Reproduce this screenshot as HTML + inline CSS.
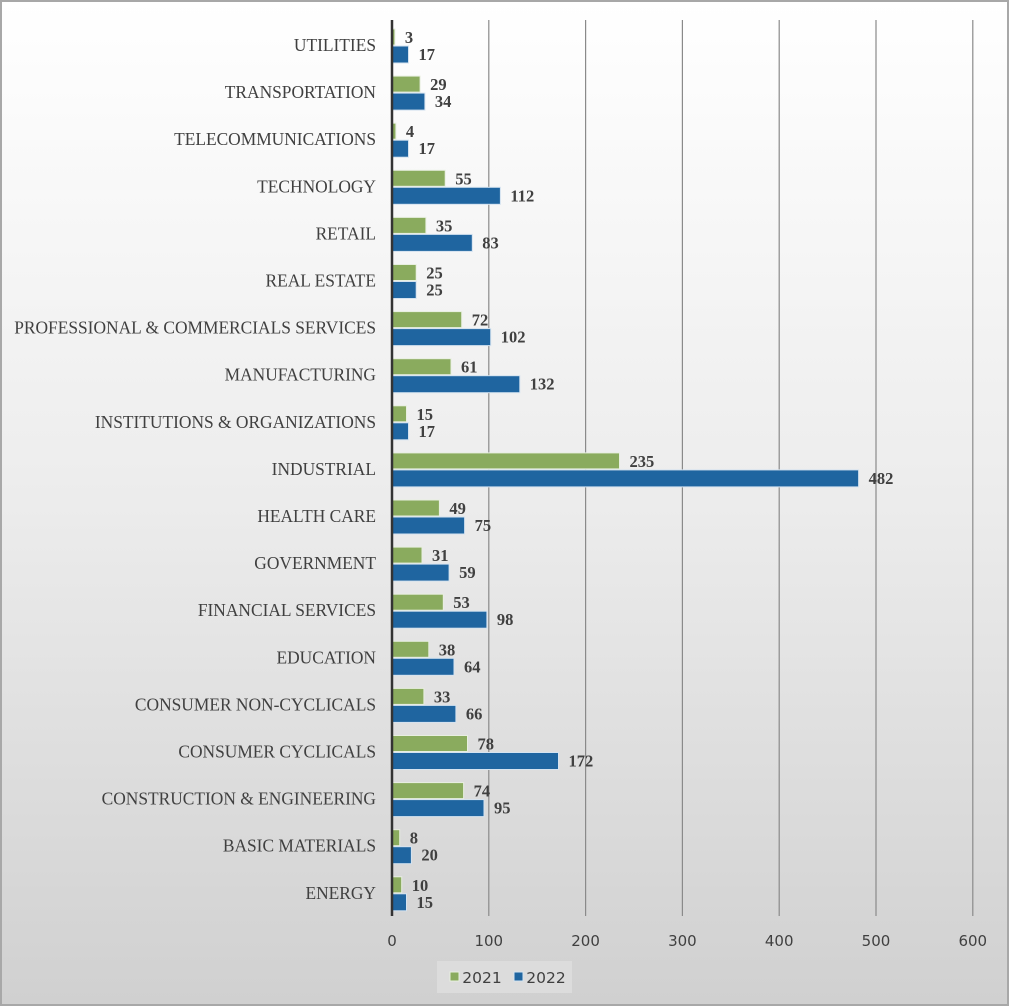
<!DOCTYPE html>
<html><head><meta charset="utf-8"><style>
html,body{margin:0;padding:0;}
body{width:1009px;height:1006px;overflow:hidden;}
svg{display:block}
.c{font-family:"Liberation Serif",serif;font-size:17.4px;fill:#404040;text-anchor:end}
.v{font-family:"Liberation Serif",serif;font-weight:bold;font-size:16.5px;fill:#404040}
.t{font-family:"DejaVu Sans",sans-serif;font-size:15px;fill:#404040;text-anchor:middle}
.g{fill:#8aab5e;stroke:#e8efe0;stroke-width:1}
.b{fill:#1f65a0;stroke:#d5e3f0;stroke-width:1}
</style></head><body>
<svg width="1009" height="1006" viewBox="0 0 1009 1006">
<defs><linearGradient id="bg" x1="0" y1="0" x2="0" y2="1">
<stop offset="0" stop-color="#ffffff"/><stop offset="0.5" stop-color="#ececec"/><stop offset="1" stop-color="#d0d0d0"/></linearGradient></defs>
<rect x="0.5" y="0.5" width="1008" height="1005" fill="url(#bg)" stroke="#a8a8a8" stroke-width="3"/>
<g stroke="#8a8a8a" stroke-width="1.2">
<line x1="488.8" y1="20" x2="488.8" y2="916"/><line x1="585.6" y1="20" x2="585.6" y2="916"/>
<line x1="682.4" y1="20" x2="682.4" y2="916"/><line x1="779.2" y1="20" x2="779.2" y2="916"/>
<line x1="876" y1="20" x2="876" y2="916"/><line x1="972.8" y1="20" x2="972.8" y2="916"/>
</g>
<g transform="translate(0,46)"><text class="c" x="376" y="5">UTILITIES</text><rect class="g" x="392" y="-17" width="2.9" height="16"/><rect class="b" x="392" y="0" width="16.5" height="17"/><text class="v" x="404.9" y="-3">3</text><text class="v" x="418.5" y="14">17</text></g>
<g transform="translate(0,93.1)"><text class="c" x="376" y="5">TRANSPORTATION</text><rect class="g" x="392" y="-17" width="28.1" height="16"/><rect class="b" x="392" y="0" width="32.9" height="17"/><text class="v" x="430.1" y="-3">29</text><text class="v" x="434.9" y="14">34</text></g>
<g transform="translate(0,140.2)"><text class="c" x="376" y="5">TELECOMMUNICATIONS</text><rect class="g" x="392" y="-17" width="3.9" height="16"/><rect class="b" x="392" y="0" width="16.5" height="17"/><text class="v" x="405.9" y="-3">4</text><text class="v" x="418.5" y="14">17</text></g>
<g transform="translate(0,187.3)"><text class="c" x="376" y="5">TECHNOLOGY</text><rect class="g" x="392" y="-17" width="53.2" height="16"/><rect class="b" x="392" y="0" width="108.4" height="17"/><text class="v" x="455.2" y="-3">55</text><text class="v" x="510.4" y="14">112</text></g>
<g transform="translate(0,234.4)"><text class="c" x="376" y="5">RETAIL</text><rect class="g" x="392" y="-17" width="33.9" height="16"/><rect class="b" x="392" y="0" width="80.3" height="17"/><text class="v" x="435.9" y="-3">35</text><text class="v" x="482.3" y="14">83</text></g>
<g transform="translate(0,281.5)"><text class="c" x="376" y="5">REAL ESTATE</text><rect class="g" x="392" y="-17" width="24.2" height="16"/><rect class="b" x="392" y="0" width="24.2" height="17"/><text class="v" x="426.2" y="-3">25</text><text class="v" x="426.2" y="14">25</text></g>
<g transform="translate(0,328.6)"><text class="c" x="376" y="5">PROFESSIONAL &amp; COMMERCIALS SERVICES</text><rect class="g" x="392" y="-17" width="69.7" height="16"/><rect class="b" x="392" y="0" width="98.7" height="17"/><text class="v" x="471.7" y="-3">72</text><text class="v" x="500.7" y="14">102</text></g>
<g transform="translate(0,375.7)"><text class="c" x="376" y="5">MANUFACTURING</text><rect class="g" x="392" y="-17" width="59" height="16"/><rect class="b" x="392" y="0" width="127.8" height="17"/><text class="v" x="461" y="-3">61</text><text class="v" x="529.8" y="14">132</text></g>
<g transform="translate(0,422.8)"><text class="c" x="376" y="5">INSTITUTIONS &amp; ORGANIZATIONS</text><rect class="g" x="392" y="-17" width="14.5" height="16"/><rect class="b" x="392" y="0" width="16.5" height="17"/><text class="v" x="416.5" y="-3">15</text><text class="v" x="418.5" y="14">17</text></g>
<g transform="translate(0,469.9)"><text class="c" x="376" y="5">INDUSTRIAL</text><rect class="g" x="392" y="-17" width="227.5" height="16"/><rect class="b" x="392" y="0" width="466.6" height="17"/><text class="v" x="629.5" y="-3">235</text><text class="v" x="868.6" y="14">482</text></g>
<g transform="translate(0,517)"><text class="c" x="376" y="5">HEALTH CARE</text><rect class="g" x="392" y="-17" width="47.4" height="16"/><rect class="b" x="392" y="0" width="72.6" height="17"/><text class="v" x="449.4" y="-3">49</text><text class="v" x="474.6" y="14">75</text></g>
<g transform="translate(0,564.1)"><text class="c" x="376" y="5">GOVERNMENT</text><rect class="g" x="392" y="-17" width="30" height="16"/><rect class="b" x="392" y="0" width="57.1" height="17"/><text class="v" x="432" y="-3">31</text><text class="v" x="459.1" y="14">59</text></g>
<g transform="translate(0,611.2)"><text class="c" x="376" y="5">FINANCIAL SERVICES</text><rect class="g" x="392" y="-17" width="51.3" height="16"/><rect class="b" x="392" y="0" width="94.9" height="17"/><text class="v" x="453.3" y="-3">53</text><text class="v" x="496.9" y="14">98</text></g>
<g transform="translate(0,658.3)"><text class="c" x="376" y="5">EDUCATION</text><rect class="g" x="392" y="-17" width="36.8" height="16"/><rect class="b" x="392" y="0" width="62" height="17"/><text class="v" x="438.8" y="-3">38</text><text class="v" x="464" y="14">64</text></g>
<g transform="translate(0,705.4)"><text class="c" x="376" y="5">CONSUMER NON-CYCLICALS</text><rect class="g" x="392" y="-17" width="31.9" height="16"/><rect class="b" x="392" y="0" width="63.9" height="17"/><text class="v" x="433.9" y="-3">33</text><text class="v" x="465.9" y="14">66</text></g>
<g transform="translate(0,752.5)"><text class="c" x="376" y="5">CONSUMER CYCLICALS</text><rect class="g" x="392" y="-17" width="75.5" height="16"/><rect class="b" x="392" y="0" width="166.5" height="17"/><text class="v" x="477.5" y="-3">78</text><text class="v" x="568.5" y="14">172</text></g>
<g transform="translate(0,799.6)"><text class="c" x="376" y="5">CONSTRUCTION &amp; ENGINEERING</text><rect class="g" x="392" y="-17" width="71.6" height="16"/><rect class="b" x="392" y="0" width="92" height="17"/><text class="v" x="473.6" y="-3">74</text><text class="v" x="494" y="14">95</text></g>
<g transform="translate(0,846.7)"><text class="c" x="376" y="5">BASIC MATERIALS</text><rect class="g" x="392" y="-17" width="7.7" height="16"/><rect class="b" x="392" y="0" width="19.4" height="17"/><text class="v" x="409.7" y="-3">8</text><text class="v" x="421.4" y="14">20</text></g>
<g transform="translate(0,893.8)"><text class="c" x="376" y="5">ENERGY</text><rect class="g" x="392" y="-17" width="9.7" height="16"/><rect class="b" x="392" y="0" width="14.5" height="17"/><text class="v" x="411.7" y="-3">10</text><text class="v" x="416.5" y="14">15</text></g>
<line x1="392" y1="20" x2="392" y2="916" stroke="#333" stroke-width="2.5"/>
<text class="t" x="392" y="946">0</text><text class="t" x="488.8" y="946">100</text><text class="t" x="585.6" y="946">200</text>
<text class="t" x="682.4" y="946">300</text><text class="t" x="779.2" y="946">400</text><text class="t" x="876" y="946">500</text><text class="t" x="972.8" y="946">600</text>
<rect x="437" y="961" width="135" height="32" fill="#dcdcdc"/>
<rect class="g" x="450" y="972" width="9" height="9"/><text class="t" x="482" y="983" style="font-size:15.5px">2021</text>
<rect class="b" x="514" y="972" width="9" height="9"/><text class="t" x="546" y="983" style="font-size:15.5px">2022</text>
</svg>
</body></html>
